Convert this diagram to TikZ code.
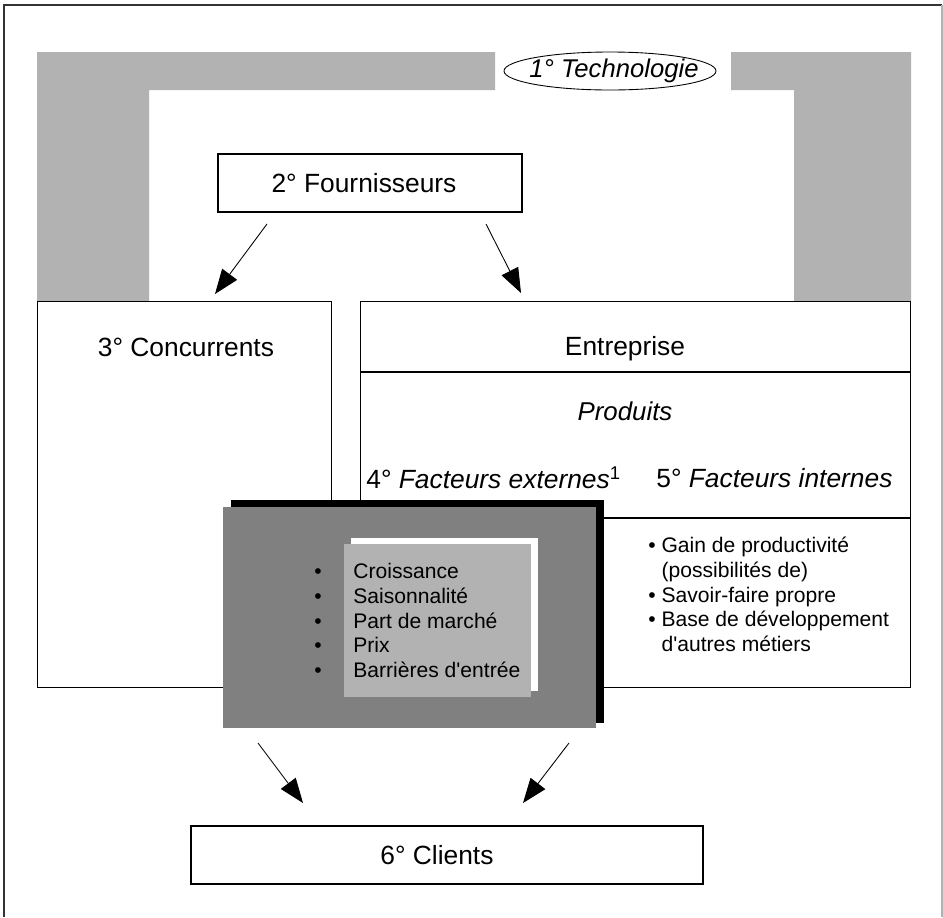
\documentclass[tikz,border=0pt]{standalone}
\usepackage{fontspec}
\setmainfont{Liberation Sans}
\usetikzlibrary{arrows.meta,shapes.geometric,positioning}
\newcommand{\unitpx}{0.02cm}
\definecolor{bandgray}{gray}{0.70}
\definecolor{markgray}{gray}{0.50}

\begin{document}
\begin{tikzpicture}[x=0.02cm,y=-0.02cm,>={Triangle[length=14pt,width=10.5pt]},
	box/.style={draw,line width=0.6pt,fill=white,inner sep=0pt},
	lbl/.style={font=\fontsize{15}{18}\selectfont},
	flow/.style={->,line width=0.5pt}
	]

	\useasboundingbox (0,0) rectangle (943,917);
	\draw[black!80,line width=0.8pt] (4,917) -- (4,5) -- (942,5);
	\draw[black!30,line width=0.8pt] (942,5) -- (942,917);

	% the technology band
	\fill[bandgray] (37,52) -- (495,52) -- (495,90) -- (149,90) -- (149,301) -- (37,301) -- cycle;
	\fill[bandgray] (731,52) -- (911,52) -- (911,302) -- (794,302) -- (794,90) -- (731,90) -- cycle;
	\node[ellipse,draw,fill=white,line width=0.5pt,inner sep=0pt,minimum width=212*\unitpx,minimum height=38*\unitpx] (tech) at (610,71) {};
	\node[font=\fontsize{14.6}{17}\selectfont\itshape,inner sep=0pt] (techT) at (614,71) {1° Technologie};

	\node[box,minimum width=304*\unitpx,minimum height=58*\unitpx] (fourn) at (370,183) {};
	\node[lbl] (fournT) at (364,183) {2° Fournisseurs};

	\node[box,anchor=north west,minimum width=294*\unitpx,minimum height=386*\unitpx] (conc) at (37,301) {};
	\node[box,anchor=north west,minimum width=550*\unitpx,minimum height=386*\unitpx] (entr) at (360,301) {};
	\draw[line width=0.6pt] (entr.west |- 0,372) -- (entr.east |- 0,372);
	\draw[line width=0.6pt] (entr.west |- 0,518) -- (entr.east |- 0,518);

	\node[lbl] (concT) at (186,347) {3° Concurrents};
	\node[lbl] (entrT) at (625,349) {Entreprise};
	\node[font=\fontsize{14.7}{18}\selectfont\itshape] (prod) at (625,411) {Produits};
	\node[lbl,anchor=west,inner sep=0pt] (ext) at (366,478) {4° \textit{Facteurs externes}\textsuperscript{1}};
	\node[lbl,anchor=west,inner sep=0pt] (int) at (656,478) {5° \textit{Facteurs internes}};

	\node[anchor=west,inner sep=0pt,font=\fontsize{12}{14.2}\selectfont] (intlist) at (648,597) {%
		\begin{tabular}{@{}l@{ }l@{}}
			\textbullet & Gain de productivité\\
			            & (possibilités de)\\
			\textbullet & Savoir-faire propre\\
			\textbullet & Base de développement\\
			            & d\textquotesingle autres métiers
		\end{tabular}};

	% market panel
	\fill[black] (231,500) rectangle (604,723);
	\node[fill=markgray,anchor=north west,inner sep=0pt,minimum width=373*\unitpx,minimum height=221*\unitpx] (mkt) at (223,507) {};
	\fill[white] (351,538) rectangle (538,691);
	\fill[bandgray] (344,544) rectangle (531,697);
	\node[anchor=west,inner sep=0pt,font=\fontsize{12}{14.2}\selectfont] (mktlist) at (314,623) {%
		\begin{tabular}{@{}l@{\hspace{18pt}}l@{}}
			\textbullet & Croissance\\
			\textbullet & Saisonnalité\\
			\textbullet & Part de marché\\
			\textbullet & Prix\\
			\textbullet & Barrières d\textquotesingle entrée
		\end{tabular}};

	\node[box,minimum width=512*\unitpx,minimum height=58*\unitpx] (clients) at (447,855) {};
	\node[lbl] (clientsT) at (437,855) {6° Clients};

	\coordinate (f1) at (267,224);
	\coordinate (f2) at (486,224);
	\coordinate (c1) at (215,294);
	\coordinate (e1) at (521,293);
	\coordinate (m1) at (258,743);
	\coordinate (m2) at (569,743);
	\coordinate (k1) at (303,803);
	\coordinate (k2) at (523,803);
	\draw[flow] (f1) -- (c1);
	\draw[flow] (f2) -- (e1);
	\draw[flow] (m1) -- (k1);
	\draw[flow] (m2) -- (k2);

\end{tikzpicture}
\end{document}
